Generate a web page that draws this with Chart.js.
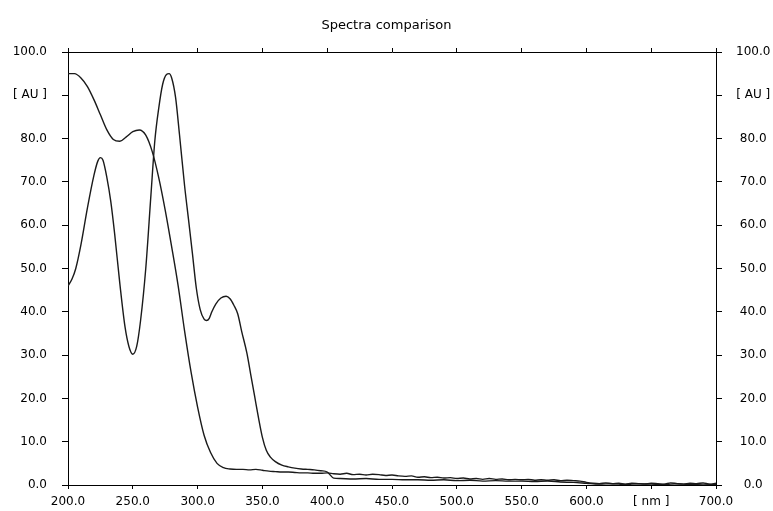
<!DOCTYPE html>
<html>
<head>
<meta charset="utf-8">
<script src="https://cdn.jsdelivr.net/npm/chart.js@4/dist/chart.umd.min.js"></script>
<style>
  html, body { margin: 0; padding: 0; background: #fff; }
  #c { display: block; }
</style>
</head>
<body>
<canvas id="c" width="773" height="511"></canvas>
<script>
// spectre 1 : part de 95 AU, épaule vers 255 nm
const waveA = [200, 205, 210, 215, 220, 225, 230, 235, 240, 245, 250, 255, 260, 265, 270, 275, 280, 285, 290, 295,
  300, 305, 310, 315, 320, 325, 330, 335, 340, 345, 350, 355, 360, 365, 370, 375, 380, 385, 390, 395,
  400, 405, 410, 415, 420, 425, 430, 435, 440, 445, 450, 455, 460, 465, 470, 475, 480, 485, 490, 495,
  500, 505, 510, 515, 520, 525, 530, 535, 540, 545, 550, 555, 560, 565, 570, 575, 580, 585, 590, 595,
  600, 605, 610, 615, 620, 625, 630, 635, 640, 645, 650, 655, 660, 665, 670, 675, 680, 685, 690, 695, 700];
const absA = [95.0, 95.0, 94.0, 92.0, 89.0, 85.5, 82.0, 79.8, 79.4, 80.4, 81.6, 82.0, 80.8, 77.0, 71.0, 63.5, 55.0, 46.0, 35.5, 26.0,
  18.0, 11.5, 7.5, 5.0, 4.0, 3.7, 3.6, 3.6, 3.5, 3.6, 3.4, 3.2, 3.1, 3.0, 3.0, 2.9, 2.8, 2.8, 2.7, 2.7,
  2.8, 2.6, 2.5, 2.7, 2.4, 2.5, 2.3, 2.5, 2.4, 2.2, 2.3, 2.1, 2.0, 2.1, 1.8, 1.9, 1.7, 1.8, 1.6, 1.7,
  1.5, 1.6, 1.4, 1.5, 1.3, 1.5, 1.3, 1.4, 1.2, 1.3, 1.2, 1.3, 1.1, 1.2, 1.1, 1.2, 1.0, 1.1, 1.0, 0.9,
  0.6, 0.4, 0.3, 0.5, 0.3, 0.4, 0.2, 0.4, 0.3, 0.2, 0.4, 0.3, 0.2, 0.5, 0.3, 0.2, 0.4, 0.3, 0.5, 0.2, 0.4];

// spectre 2 : pics à 225, 278 et 322 nm
const waveB = [200, 203, 206, 210, 215, 220, 223, 225, 227, 230, 233, 236, 240, 244, 247, 250, 253, 256, 260, 264,
  267, 270, 273, 276, 278, 280, 283, 286, 290, 293, 296, 299, 302, 305, 307, 309, 311, 314, 318, 322, 325,
  328, 331, 334, 338, 341, 344, 347, 350, 353, 356, 360, 365, 370, 375, 380, 385, 390, 395, 400, 405,
  410, 420, 430, 440, 450, 460, 470, 480, 490, 500, 510, 520, 530, 540, 550, 560, 570, 580, 590, 600,
  610, 620, 630, 640, 650, 660, 670, 680, 690, 700];
const absB = [46.0, 47.5, 50.0, 55.5, 64.0, 71.5, 74.8, 75.6, 75.0, 71.0, 65.5, 58.0, 46.5, 36.5, 32.0, 30.2, 32.0, 38.0, 50.0, 67.0,
  79.5, 87.0, 92.5, 94.8, 95.0, 94.0, 89.5, 81.0, 69.0, 61.3, 53.5, 45.5, 40.5, 38.3, 38.0, 38.5, 40.0, 41.8, 43.2, 43.6, 43.0,
  41.5, 39.5, 35.5, 30.5, 25.5, 20.5, 15.5, 11.0, 8.0, 6.5, 5.4, 4.6, 4.2, 3.9, 3.7, 3.6, 3.5, 3.3, 3.0, 1.6,
  1.5, 1.4, 1.5, 1.3, 1.3, 1.2, 1.2, 1.1, 1.2, 1.0, 1.1, 0.9, 1.0, 0.9, 0.9, 0.8, 0.9, 0.7, 0.6, 0.4,
  0.2, 0.3, 0.1, 0.3, 0.2, 0.1, 0.3, 0.1, 0.2, 0.1];

const xMin = 200, xMax = 700, xStep = 50;
const yMin = 0, yMax = 100, yStep = 10;
const xUnitAt = 650, xUnitLabel = '[ nm ]';
const yUnitAt = 90, yUnitLabel = '[ AU ]';

const toXY = (xs, ys) => xs.map((x, i) => ({ x, y: ys[i] }));

Chart.defaults.font.family = 'DejaVu Sans';
Chart.defaults.font.size = 12;
Chart.defaults.color = '#000';

const axisGrid = len => ({ drawOnChartArea: false, drawTicks: true, tickLength: len, color: '#000', lineWidth: 1 });
const axisBorder = { display: true, color: '#000', width: 1 };

new Chart(document.getElementById('c').getContext('2d'), {
  type: 'line',
  data: {
    datasets: [
      { data: toXY(waveA, absA), borderColor: '#1a1a1a', borderWidth: 1.4, pointRadius: 0, tension: 0.3, cubicInterpolationMode: 'monotone' },
      { data: toXY(waveB, absB), borderColor: '#1a1a1a', borderWidth: 1.4, pointRadius: 0, tension: 0.3, cubicInterpolationMode: 'monotone' }
    ]
  },
  options: {
    responsive: false,
    animation: false,
    layout: { padding: 0 },
    plugins: {
      legend: { display: false },
      tooltip: { enabled: false },
      title: {
        display: true,
        text: 'Spectra comparison',
        font: { size: 13, weight: 'normal' },
        color: '#000',
        padding: { top: 18, bottom: 0 }
      }
    },
    scales: {
      x: {
        type: 'linear', position: 'bottom', min: xMin, max: xMax,
        ticks: { stepSize: xStep, padding: 6, maxRotation: 0,
          callback: v => v === xUnitAt ? xUnitLabel : v.toFixed(1) },
        grid: axisGrid(4), border: axisBorder,
        afterFit: s => { s.height = 26; }
      },
      xTop: {
        type: 'linear', position: 'top', min: xMin, max: xMax,
        ticks: { stepSize: xStep, display: false },
        grid: axisGrid(4), border: axisBorder,
        afterFit: s => { s.height = 52 - 33.6; }
      },
      y: {
        type: 'linear', position: 'left', min: yMin, max: yMax,
        ticks: { stepSize: yStep, padding: 15,
          callback: v => v === yUnitAt ? yUnitLabel : v.toFixed(1) },
        grid: axisGrid(6), border: axisBorder,
        afterFit: s => { s.width = 68; }
      },
      yRight: {
        type: 'linear', position: 'right', min: yMin, max: yMax,
        ticks: { stepSize: yStep, padding: 14, crossAlign: 'center',
          callback: v => v === yUnitAt ? yUnitLabel : v.toFixed(1) },
        grid: axisGrid(6), border: axisBorder,
        afterFit: s => { s.width = 57; }
      }
    }
  }
});
</script>
</body>
</html>
